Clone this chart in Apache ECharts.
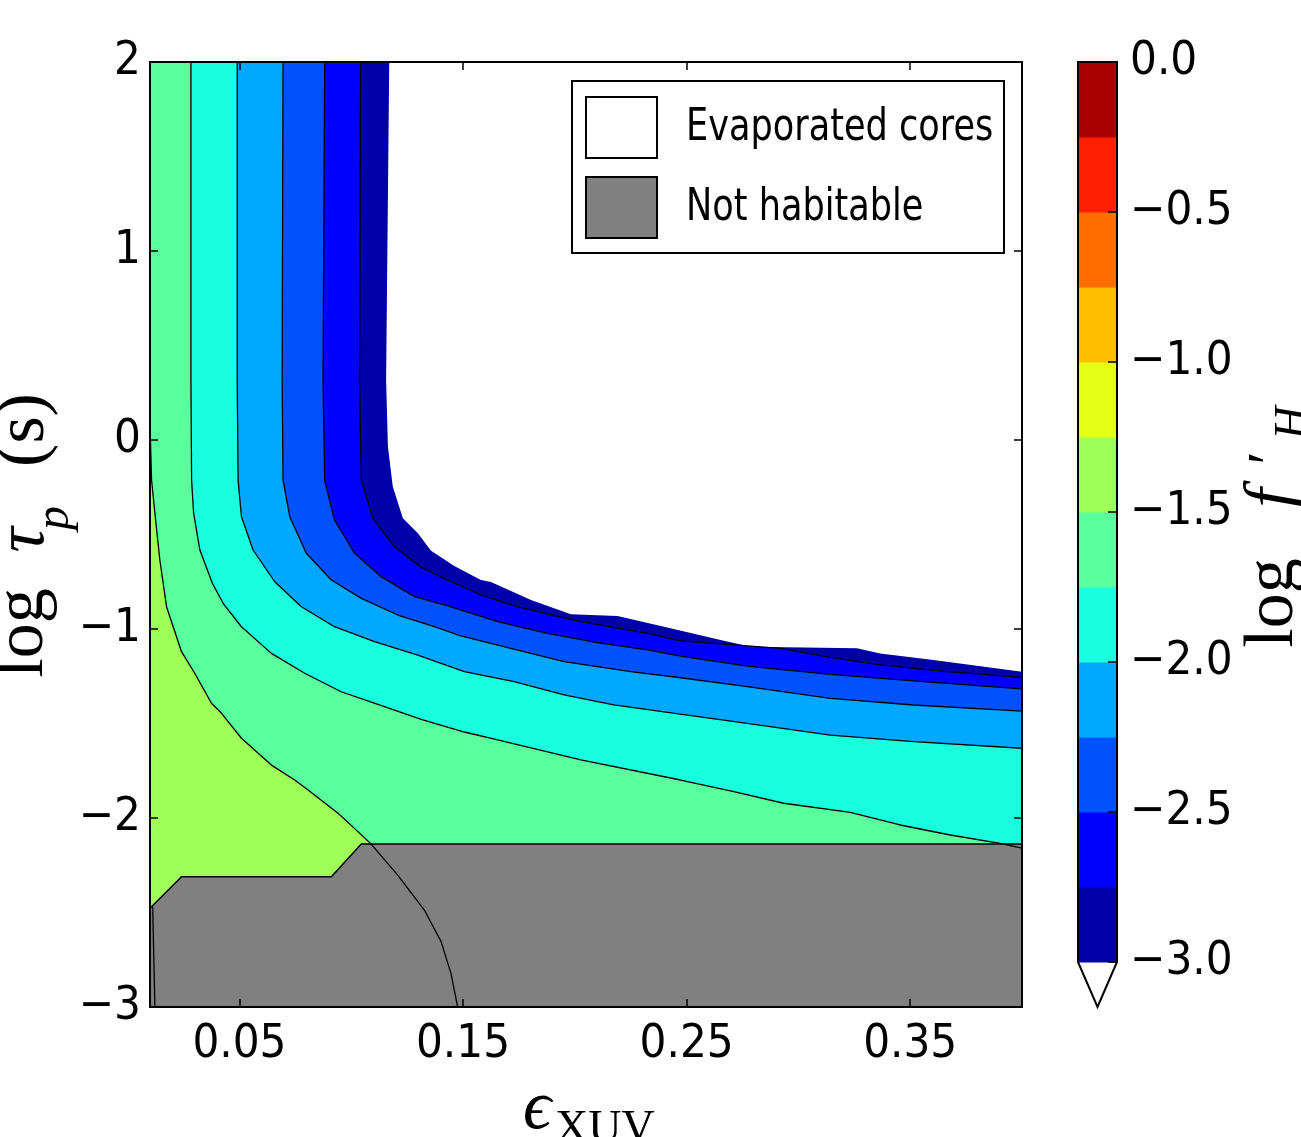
<!DOCTYPE html>
<html>
<head>
<meta charset="utf-8">
<script src="https://cdn.jsdelivr.net/npm/echarts@6/dist/echarts.min.js"></script>
<style>
    html, body { margin: 0; padding: 0; background: #fff; }
    #chart { width: 1301px; height: 1137px; }
</style>
</head>
<body>
<div id="chart"></div>
<script>
    // plot limits
    var X_MIN = 0.01, X_MAX = 0.40, Y_MIN = -3, Y_MAX = 2;

    // contour boundaries, [eps_XUV, log tau_p], top edge -> right edge
    var edgeEvaporated = [[0.117, 2], [0.1156, 0.317], [0.1164, -0.035], [0.1186, -0.247], [0.1231, -0.414], [0.1298, -0.494], [0.1357, -0.586], [0.1461, -0.667], [0.158, -0.741], [0.1625, -0.751], [0.1804, -0.847], [0.1982, -0.922], [0.2191, -0.931], [0.2399, -0.988], [0.2652, -1.058], [0.2786, -1.094], [0.3262, -1.102], [0.3366, -1.129], [0.3604, -1.164], [0.40, -1.226]];
    var level275 = [[0.1042, 2], [0.1037, 0.317], [0.1045, -0.212], [0.1097, -0.414], [0.1193, -0.565], [0.1313, -0.674], [0.1432, -0.741], [0.158, -0.820], [0.1729, -0.878], [0.1878, -0.921], [0.2027, -0.961], [0.2325, -1.023], [0.2473, -1.063], [0.2652, -1.079], [0.292, -1.102], [0.3143, -1.150], [0.3366, -1.190], [0.3664, -1.226], [0.40, -1.256]];
    var level250 = [[0.0881, 2], [0.0874, 0.317], [0.0881, -0.212], [0.0925, -0.423], [0.1015, -0.599], [0.1134, -0.723], [0.1283, -0.829], [0.1432, -0.878], [0.1655, -0.961], [0.1878, -1.023], [0.2101, -1.072], [0.2325, -1.111], [0.2473, -1.143], [0.2771, -1.196], [0.3143, -1.240], [0.3515, -1.275], [0.40, -1.317]];
    var level225 = [[0.0695, 2], [0.0691, 0.317], [0.0695, -0.212], [0.0725, -0.406], [0.0799, -0.599], [0.0911, -0.741], [0.1045, -0.838], [0.1208, -0.926], [0.1372, -0.988], [0.1491, -1.037], [0.1655, -1.085], [0.1952, -1.173], [0.225, -1.226], [0.2473, -1.258], [0.2771, -1.305], [0.3143, -1.367], [0.3515, -1.402], [0.40, -1.434]];
    var level200 = [[0.049, 2], [0.049, 0.317], [0.0494, -0.212], [0.0509, -0.406], [0.0561, -0.582], [0.0658, -0.750], [0.0777, -0.882], [0.0925, -0.988], [0.1104, -1.067], [0.1298, -1.138], [0.1506, -1.226], [0.1729, -1.279], [0.1952, -1.349], [0.2175, -1.402], [0.2399, -1.438], [0.2771, -1.499], [0.3143, -1.561], [0.3515, -1.596], [0.40, -1.631]];
    var level175 = [[0.0283, 2], [0.0283, 0.317], [0.0286, -0.212], [0.0295, -0.386], [0.0323, -0.582], [0.0379, -0.758], [0.0427, -0.864], [0.0509, -0.988], [0.0643, -1.129], [0.0792, -1.234], [0.0955, -1.332], [0.1103, -1.392], [0.1313, -1.478], [0.1506, -1.545], [0.1655, -1.587], [0.2027, -1.693], [0.2473, -1.799], [0.2711, -1.861], [0.2934, -1.922], [0.3232, -1.970], [0.3455, -2.037], [0.3679, -2.090], [0.3902, -2.134], [0.40, -2.160]];
    // this one runs from the left edge down to the bottom edge
    var level150 = [[0.0102, 0], [0.0107, -0.212], [0.0122, -0.388], [0.0144, -0.635], [0.0174, -0.882], [0.0241, -1.120], [0.03, -1.234], [0.0375, -1.393], [0.042, -1.446], [0.0509, -1.578], [0.0643, -1.720], [0.0747, -1.799], [0.0807, -1.852], [0.0941, -1.975], [0.103, -2.072], [0.1089, -2.138], [0.1208, -2.302], [0.1327, -2.487], [0.1402, -2.654], [0.1446, -2.822], [0.1476, -3]];
    var level125 = [[0.0112, -2.47], [0.0122, -3]];
    var notHabitableTop = [[0.01, -2.478], [0.0241, -2.311], [0.0911, -2.311], [0.1045, -2.138], [0.40, -2.138]];

    var xTicks = [0.05, 0.15, 0.25, 0.35];
    var cbLevels = [-3, -2.75, -2.5, -2.25, -2, -1.75, -1.5, -1.25, -1, -0.75, -0.5, -0.25, 0];
    var cbColors = ['#0000aa', '#0000ff', '#0052ff', '#00a9ff', '#19ffde', '#5aff9d', '#9dff57', '#e4ff13', '#ffbf00', '#ff6d00', '#ff1e00', '#aa0000'];

    var TICK_FONT = 'DejaVu Sans Condensed, DejaVu Sans';
    var SERIF = 'Liberation Serif, DejaVu Serif';

    function leftOf(curve) {
        return [[X_MIN, Y_MAX]].concat(curve, [[X_MAX, Y_MIN], [X_MIN, Y_MIN]]);
    }

    function polygonSeries(points, fill, stroke, width) {
        return {
            type: 'custom',
            xAxisIndex: 0,
            yAxisIndex: 0,
            silent: true,
            animation: false,
            data: [points[0]],
            renderItem: function (params, api) {
                var pts = points.map(function (p) { return api.coord(p); });
                return {
                    type: 'polygon',
                    shape: { points: pts },
                    style: { fill: fill, stroke: stroke || null, lineWidth: width || 0 }
                };
            }
        };
    }

    function lineSeries(curve) {
        return {
            type: 'line',
            xAxisIndex: 0,
            yAxisIndex: 0,
            data: curve,
            symbol: 'none',
            silent: true,
            animation: false,
            lineStyle: { color: '#000', width: 1.3 }
        };
    }

    function minus(v) {
        return String(v).replace('-', '\u2212');
    }

    var series = [
        polygonSeries(leftOf(edgeEvaporated), cbColors[0]),
        polygonSeries(leftOf(level275), cbColors[1]),
        polygonSeries(leftOf(level250), cbColors[2]),
        polygonSeries(leftOf(level225), cbColors[3]),
        polygonSeries(leftOf(level200), cbColors[4]),
        polygonSeries(leftOf(level175), cbColors[5]),
        polygonSeries([[X_MIN, level150[0][1]]].concat(level150, [[X_MIN, Y_MIN]]), cbColors[6]),
        polygonSeries(notHabitableTop.concat([[X_MAX, Y_MIN], [X_MIN, Y_MIN]]), '#808080', '#000', 1.5),
        lineSeries(level275),
        lineSeries(level250),
        lineSeries(level225),
        lineSeries(level200),
        lineSeries(level175),
        lineSeries(level150),
        lineSeries(level125),
        // colorbar blocks
        {
            type: 'custom',
            xAxisIndex: 2,
            yAxisIndex: 2,
            silent: true,
            animation: false,
            data: cbColors.map(function (c, i) { return [0.5, cbLevels[i]]; }),
            renderItem: function (params, api) {
                var i = params.dataIndex;
                var p0 = api.coord([0, cbLevels[i + 1]]);
                var p1 = api.coord([1, cbLevels[i]]);
                return {
                    type: 'rect',
                    shape: { x: p0[0], y: p0[1], width: p1[0] - p0[0], height: p1[1] - p0[1] + 0.5 },
                    style: { fill: cbColors[i] }
                };
            }
        },
        // colorbar outline with the 'extend min' triangle
        {
            type: 'custom',
            xAxisIndex: 2,
            yAxisIndex: 2,
            silent: true,
            animation: false,
            clip: false,
            data: [[0, 0]],
            renderItem: function (params, api) {
                var pts = [[0, 0], [1, 0], [1, -3], [0.5, -3.15], [0, -3]].map(function (p) { return api.coord(p); });
                return {
                    type: 'polygon',
                    shape: { points: pts },
                    style: { fill: null, stroke: '#000', lineWidth: 2 }
                };
            }
        }
    ];

    var axisCommon = {
        type: 'value',
        z: 10,
        splitLine: { show: false },
        axisLine: { onZero: false, lineStyle: { color: '#000', width: 2 } },
        axisTick: { inside: true, length: 8, lineStyle: { color: '#000', width: 1.5 } }
    };

    function xAxis(pos, labels) {
        return Object.assign({}, axisCommon, {
            gridIndex: 0,
            position: pos,
            min: X_MIN,
            max: X_MAX,
            axisTick: Object.assign({}, axisCommon.axisTick, { customValues: xTicks }),
            axisLabel: {
                show: labels,
                customValues: xTicks,
                color: '#000',
                fontSize: 47,
                fontFamily: TICK_FONT,
                margin: 14
            }
        });
    }

    function yAxis(pos, labels) {
        return Object.assign({}, axisCommon, {
            gridIndex: 0,
            position: pos,
            min: Y_MIN,
            max: Y_MAX,
            interval: 1,
            axisLabel: {
                show: labels,
                color: '#000',
                fontSize: 47,
                fontFamily: TICK_FONT,
                margin: 9,
                formatter: minus
            }
        });
    }

    function txt(x, y, text, font, rot, align) {
        return {
            type: 'text',
            x: x,
            y: y,
            rotation: rot || 0,
            z: 100,
            style: {
                text: text,
                font: font,
                fill: '#000',
                align: align || 'center',
                verticalAlign: 'middle',
                textAlign: align || 'center',
                textVerticalAlign: 'middle'
            }
        };
    }

    var R = Math.PI / 2;
    var graphic = [
        // legend
        { type: 'rect', z: 100, shape: { x: 572, y: 81, width: 432, height: 172 }, style: { fill: '#fff', stroke: '#000', lineWidth: 2 } },
        { type: 'rect', z: 101, shape: { x: 586, y: 97, width: 71, height: 61 }, style: { fill: '#fff', stroke: '#000', lineWidth: 2 } },
        { type: 'rect', z: 101, shape: { x: 586, y: 177, width: 71, height: 61 }, style: { fill: '#808080', stroke: '#000', lineWidth: 2 } },
        Object.assign(txt(686, 128, 'Evaporated cores', '45px DejaVu Sans', 0, 'left'), { scaleX: 0.78, z: 102 }),
        Object.assign(txt(686, 208, 'Not habitable', '45px DejaVu Sans', 0, 'left'), { scaleX: 0.78, z: 102 }),
        // y axis title
        txt(24, 633, 'log', '70px ' + SERIF, R),
        txt(25, 540, '\u03c4', 'italic 70px ' + SERIF, R),
        txt(55, 518, 'p', 'italic 48px ' + SERIF, R),
        txt(25, 430, '(s)', '70px ' + SERIF, R),
        // x axis title
        txt(537, 1110, '\u03f5', 'italic 70px ' + SERIF),
        txt(555, 1130, 'XUV', '46px ' + SERIF, 0, 'left'),
        // colorbar title
        txt(1274, 603, 'log', '70px ' + SERIF, R),
        txt(1274, 498, 'f', 'italic 70px ' + SERIF, R),
        txt(1272, 458, '\u2032', '60px ' + SERIF, R),
        txt(1294, 423, 'H', 'italic 46px ' + SERIF, R)
    ];

    var chart = echarts.init(document.getElementById('chart'), null, { renderer: 'canvas' });
    chart.setOption({
        backgroundColor: '#fff',
        animation: false,
        grid: [
            { left: 150, top: 62, width: 872, height: 945, outerBoundsMode: 'none', containLabel: false },
            { left: 1078, top: 62, width: 39, height: 900, outerBoundsMode: 'none', containLabel: false }
        ],
        xAxis: [
            xAxis('bottom', true),
            xAxis('top', false),
            { type: 'value', gridIndex: 1, min: 0, max: 1, show: false }
        ],
        yAxis: [
            yAxis('left', true),
            yAxis('right', false),
            {
                type: 'value',
                gridIndex: 1,
                position: 'right',
                min: -3,
                max: 0,
                interval: 0.5,
                z: 10,
                splitLine: { show: false },
                axisLine: { show: false, onZero: false },
                axisTick: { inside: true, length: 9, lineStyle: { color: '#000', width: 1.5 } },
                axisLabel: {
                    color: '#000',
                    fontSize: 47,
                    fontFamily: TICK_FONT,
                    margin: 13,
                    formatter: function (v) { return minus(v.toFixed(1)); }
                }
            }
        ],
        series: series,
        graphic: graphic
    });
</script>
</body>
</html>
